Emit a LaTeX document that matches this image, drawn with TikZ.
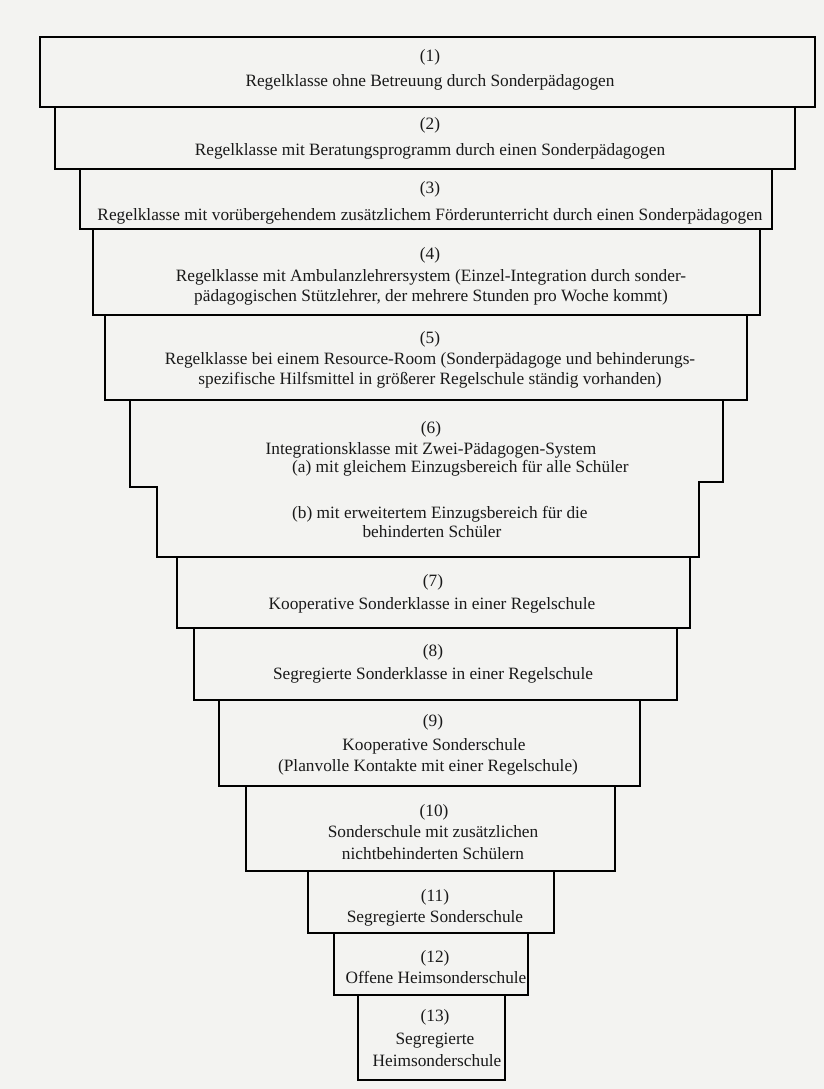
\documentclass[tikz,border=0pt]{standalone}
\usepackage{fontspec}
\setmainfont{Liberation Serif}
\definecolor{paper}{RGB}{243,243,241}
\begin{document}
\begin{tikzpicture}[x=1pt,y=-1pt,
  frame/.style={draw=black, line width=2.4pt, line join=miter},
  lbl/.style={anchor=base, inner sep=0pt, text=black!90,
    font=\fontsize{17.3}{20}\selectfont},
  lblw/.style={lbl, anchor=base west},
]
% sheet
\fill[paper] (0,0) rectangle (824,1089);
\useasboundingbox (0,0) rectangle (824,1089);

% stacked boxes, widest at the top
\draw[frame] (40,37)   rectangle (815,107);
\draw[frame] (55,107)  rectangle (795,169);
\draw[frame] (80,169)  rectangle (772,229);
\draw[frame] (93,229)  rectangle (760,315);
\draw[frame] (105,315) rectangle (747,400);
% box (6) with a step on each side
\draw[frame] (130,400) -- (723,400) -- (723,482) -- (699,482) -- (699,557)
  -- (157,557) -- (157,487) -- (130,487) -- cycle;
\draw[frame] (177,557) rectangle (690,628);
\draw[frame] (194,628) rectangle (677,700);
\draw[frame] (219,700) rectangle (640,786);
\draw[frame] (246,786) rectangle (615,871);
\draw[frame] (308,871) rectangle (554,933);
\draw[frame] (334,933) rectangle (528,995);
\draw[frame] (358,995) rectangle (505,1080);

% labels
\node[lbl] (n1) at (430,62) {(1)};
\node[lbl] (t1) at (430,87) {Regelklasse ohne Betreuung durch Sonderpädagogen};

\node[lbl] (n2) at (430,130) {(2)};
\node[lbl] (t2) at (430,155) {Regelklasse mit Beratungsprogramm durch einen Sonderpädagogen};

\node[lbl] (n3) at (430,193) {(3)};
\node[lbl] (t3) at (430,220) {Regelklasse mit vorübergehendem zusätzlichem Förderunterricht durch einen Sonderpädagogen};

\node[lbl] (n4) at (430,259) {(4)};
\node[lbl] (t4a) at (431,281) {Regelklasse mit Ambulanzlehrersystem (Einzel-Integration durch sonder-};
\node[lbl] (t4b) at (431,301) {pädagogischen Stützlehrer, der mehrere Stunden pro Woche kommt)};

\node[lbl] (n5) at (430,343) {(5)};
\node[lbl] (t5a) at (430,364) {Regelklasse bei einem Resource-Room (Sonderpädagoge und behinderungs-};
\node[lbl] (t5b) at (430,384) {spezifische Hilfsmittel in größerer Regelschule ständig vorhanden)};

\node[lbl] (n6) at (431,433) {(6)};
\node[lbl] (t6) at (431,454) {Integrationsklasse mit Zwei-Pädagogen-System};
\node[lblw] (t6a) at (292,472) {(a) mit gleichem Einzugsbereich für alle Schüler};
\node[lblw] (t6b) at (292,518) {(b) mit erweitertem Einzugsbereich für die};
\node[lbl] (t6c) at (432,537) {behinderten Schüler};

\node[lbl] (n7) at (433,586) {(7)};
\node[lbl] (t7) at (432,609) {Kooperative Sonderklasse in einer Regelschule};

\node[lbl] (n8) at (433,656) {(8)};
\node[lbl] (t8) at (433,679) {Segregierte Sonderklasse in einer Regelschule};

\node[lbl] (n9) at (433,726) {(9)};
\node[lbl] (t9a) at (434,750) {Kooperative Sonderschule};
\node[lbl] (t9b) at (428,771) {(Planvolle Kontakte mit einer Regelschule)};

\node[lbl] (n10) at (434,816) {(10)};
\node[lbl] (t10a) at (433,837) {Sonderschule mit zusätzlichen};
\node[lbl] (t10b) at (433,859) {nichtbehinderten Schülern};

\node[lbl] (n11) at (435,901) {(11)};
\node[lbl] (t11) at (435,922) {Segregierte Sonderschule};

\node[lbl] (n12) at (435,962) {(12)};
\node[lbl] (t12) at (436,983) {Offene Heimsonderschule};

\node[lbl] (n13) at (435,1021) {(13)};
\node[lbl] (t13a) at (435,1044) {Segregierte};
\node[lbl] (t13b) at (437,1066) {Heimsonderschule};
\end{tikzpicture}
\end{document}
